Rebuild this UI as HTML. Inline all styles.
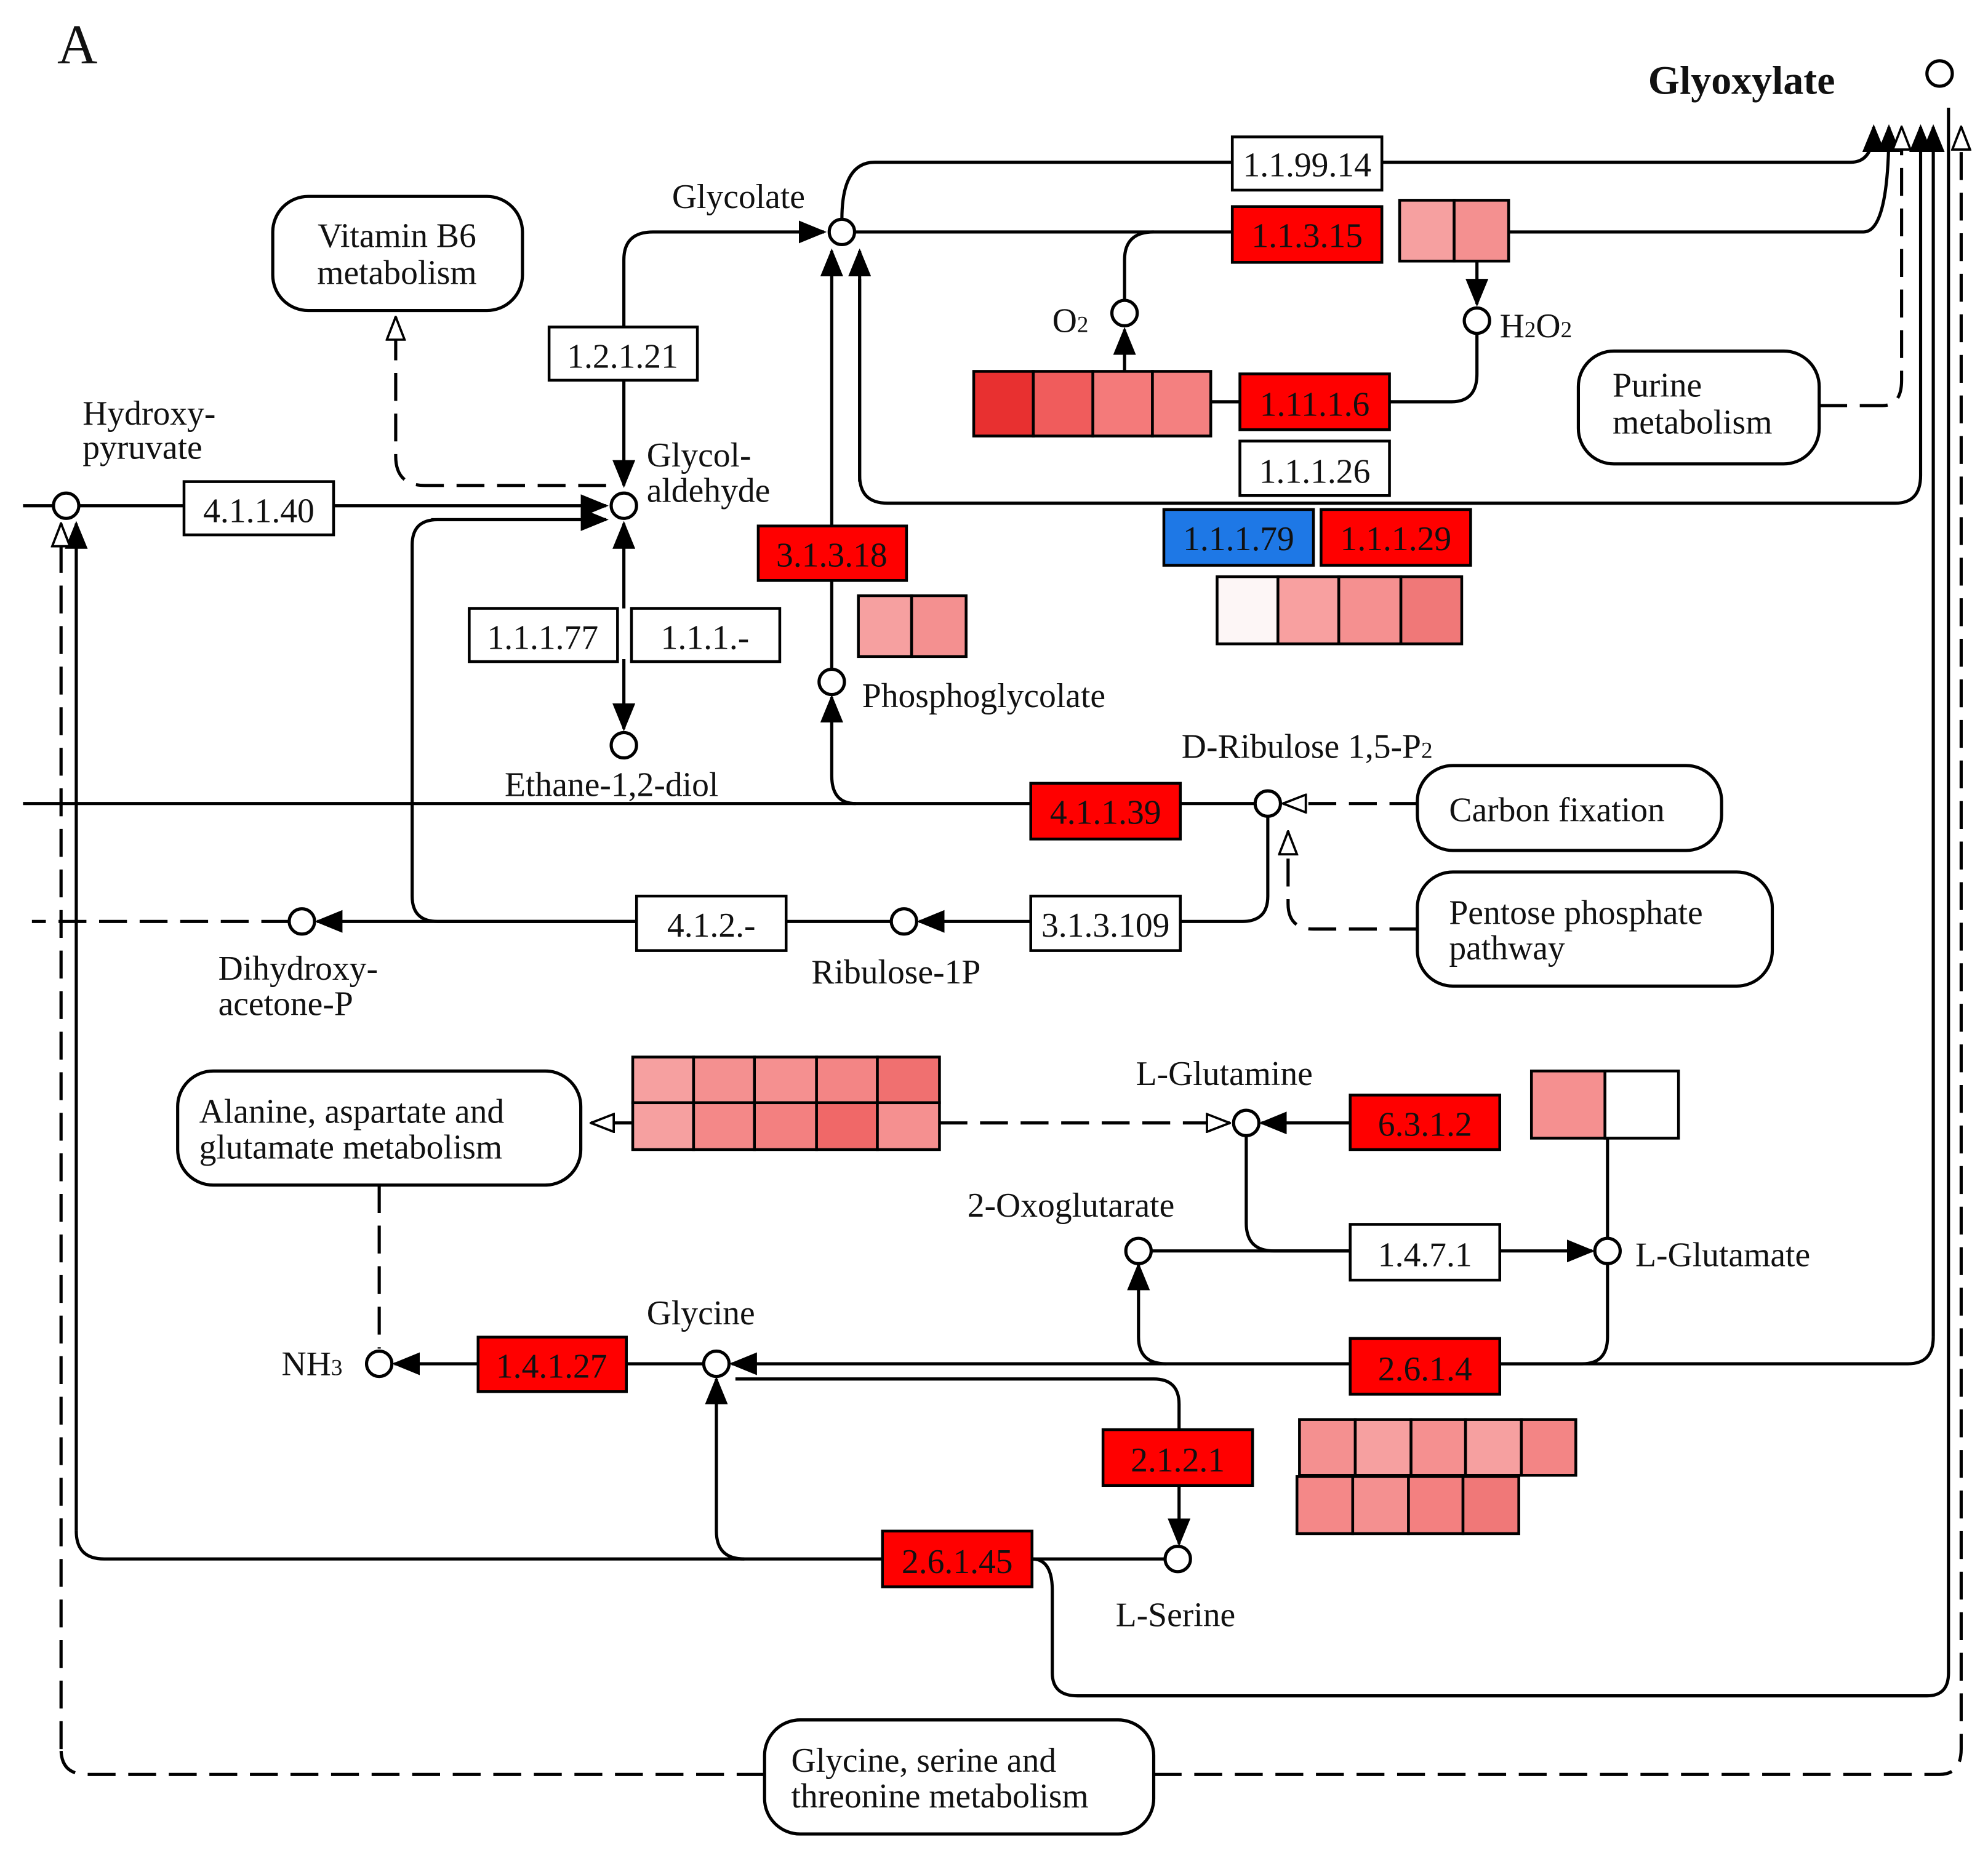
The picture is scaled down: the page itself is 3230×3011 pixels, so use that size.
<!DOCTYPE html>
<html><head><meta charset="utf-8"><style>
html,body{margin:0;padding:0;background:#fff}
svg{display:block}
text{font-family:"Liberation Serif",serif;font-size:27px;fill:#111}
.bt{text-anchor:middle}
</style></head><body>
<svg width="3230" height="3011" viewBox="0 0 1568 1462" xmlns="http://www.w3.org/2000/svg">
<defs>
<marker id="a" markerWidth="10" markerHeight="10" refX="9" refY="5" orient="auto" markerUnits="userSpaceOnUse" viewBox="0 0 10 10"><path d="M0,0 L10,5 L0,10 z" fill="#000"/></marker>
<marker id="af" markerWidth="22" markerHeight="18" refX="20" refY="9" orient="auto" markerUnits="userSpaceOnUse" viewBox="0 0 22 18"><path d="M0,0 L22,9 L0,18 z" fill="#000"/></marker>
<marker id="ao" markerWidth="20" markerHeight="16" refX="19" refY="8" orient="auto" markerUnits="userSpaceOnUse" viewBox="0 0 20 16"><path d="M1,1 L19,8 L1,15 z" fill="#fff" stroke="#000" stroke-width="1.8"/></marker>
</defs>
<rect width="1568" height="1462" fill="#fff"/>
<g fill="none" stroke="#000" stroke-width="2.5" stroke-linejoin="round">
<!-- top lines -->
<path d="M664,173 Q664,128 690,128 L972,128 M1090,128 L1460,128 Q1478,128 1478,100" marker-end="url(#af)"/>
<path d="M674,183 L972,183 M1190,183 L1470,183 Q1490,183 1490,100" marker-end="url(#af)"/>
<path d="M910,183 Q887,183 887,205 L887,237"/>
<path d="M1165,206 L1165,240" marker-end="url(#af)"/>
<path d="M1165,263 L1165,295 Q1165,317 1145,317 L1096,317 M955,317 L978,317"/>
<path d="M887,293 L887,260" marker-end="url(#af)"/>
<path d="M678,220 L678,375 Q678,397 700,397 L1495,397 Q1515,397 1515,375 L1515,100" marker-end="url(#af)"/>
<path d="M678,380 L678,198" marker-end="url(#af)"/>
<path d="M656,528 L656,198" marker-end="url(#af)"/>
<path d="M1525,1055 L1525,100" marker-end="url(#af)"/>
<path d="M1183,1076 L1505,1076 Q1525,1076 1525,1055"/>
<path d="M492,258 L492,205 Q492,183 515,183 L650,183" marker-end="url(#af)"/>
<path d="M492,300 L492,383" marker-end="url(#af)"/>
<path d="M18,399 L42,399 M62,399 L145,399 M263,399 L478,399" marker-end="url(#af)"/>
<path d="M478,410 L345,410 Q325,410 325,430 L325,707 Q325,727 345,727 L502,727"/>
<path d="M340,410 L478,410" marker-end="url(#af)"/>
<path d="M492,480 L492,413" marker-end="url(#af)"/>
<path d="M492,520 L492,575" marker-end="url(#af)"/>
<path d="M18,634 L813,634 M931,634 L990,634"/>
<path d="M675,634 Q656,634 656,612 L656,550" marker-end="url(#af)"/>
<path d="M1000,644 L1000,707 Q1000,727 980,727 L931,727"/>
<path d="M813,727 L725,727" marker-end="url(#af)"/>
<path d="M703,727 L620,727"/>
<path d="M502,727 L250,727" marker-end="url(#af)"/>
<path d="M60,1208 L60,413" marker-end="url(#af)"/>
<path d="M60,1208 Q60,1230 82,1230 L696,1230 M814,1230 L919,1230"/>
<path d="M587,1230 Q565,1230 565,1208 L565,1088" marker-end="url(#af)"/>
<path d="M814,1230 Q830,1230 830,1255 L830,1320 Q830,1338 850,1338 L1520,1338 Q1537,1338 1537,1320 L1537,85"/>
<path d="M1065,886 L995,886" marker-end="url(#af)"/>
<path d="M983,896 L983,965 Q983,987 1005,987 L1065,987"/>
<path d="M908,987 L1065,987"/>
<path d="M1183,987 L1256,987" marker-end="url(#af)"/>
<path d="M1268,898 L1268,977 M1268,997 L1268,1055 Q1268,1076 1248,1076 L1183,1076"/>
<path d="M920,1076 Q898,1076 898,1055 L898,998" marker-end="url(#af)"/>
<path d="M1065,1076 L577,1076" marker-end="url(#af)"/>
<path d="M377,1076 L311,1076" marker-end="url(#af)"/>
<path d="M555,1076 L494,1076"/>
<path d="M580,1088 L910,1088 Q930,1088 930,1108 L930,1128 M930,1172 L930,1218" marker-end="url(#af)"/>
</g>
<g fill="none" stroke="#000" stroke-width="2.5" stroke-dasharray="22,10">
<path d="M1435,320 L1485,320 Q1500,320 1500,300 L1500,100" marker-end="url(#ao)"/>
<path d="M478,383 L335,383 Q312,383 312,360 L312,250" marker-end="url(#ao)"/>
<path d="M1118,634 L1012,634" marker-end="url(#ao)"/>
<path d="M1118,733 L1036,733 Q1016,733 1016,713 L1016,656" marker-end="url(#ao)"/>
<path d="M228,727 L25,727"/>
<path d="M48,1380 L48,413" marker-end="url(#ao)"/>
<path d="M603,1400 L68,1400 Q48,1400 48,1380"/>
<path d="M910,1400 L1530,1400 Q1547,1400 1547,1380 L1547,100" marker-end="url(#ao)"/>
<path d="M499,886 L466,886" marker-end="url(#ao)"/>
<path d="M741,886 L970,886" marker-end="url(#ao)"/>
<path d="M299,935 L299,1064"/>
</g>
<!-- circles -->
<g fill="#fff" stroke="#000" stroke-width="2.5">
<circle cx="1530" cy="58" r="10"/><circle cx="664" cy="183" r="10"/><circle cx="887" cy="247" r="10"/>
<circle cx="1165" cy="253" r="10"/><circle cx="492" cy="399" r="10"/><circle cx="52" cy="399" r="10"/>
<circle cx="492" cy="588" r="10"/><circle cx="656" cy="538" r="10"/><circle cx="1000" cy="634" r="10"/>
<circle cx="238" cy="727" r="10"/><circle cx="713" cy="727" r="10"/><circle cx="983" cy="886" r="10"/>
<circle cx="898" cy="987" r="10"/><circle cx="1268" cy="987" r="10"/><circle cx="565" cy="1076" r="10"/>
<circle cx="299" cy="1076" r="10"/><circle cx="929" cy="1230" r="10"/>
</g>
<!-- rounded map boxes -->
<g fill="#fff" stroke="#000" stroke-width="2.5">
<rect x="215" y="155" width="197" height="90" rx="28"/>
<rect x="1245" y="277" width="190" height="89" rx="28"/>
<rect x="1118" y="604" width="240" height="67" rx="28"/>
<rect x="1118" y="688" width="280" height="90" rx="28"/>
<rect x="140" y="845" width="318" height="90" rx="28"/>
<rect x="603" y="1357" width="307" height="90" rx="28"/>
</g>
<!-- enzyme boxes -->
<g stroke="#000" stroke-width="2.2">
<rect x="972" y="108" width="118" height="42" fill="#fff"/>
<rect x="972" y="163" width="118" height="44" fill="#f00"/>
<rect x="1104" y="158" width="43" height="48" fill="#f6a0a0"/><rect x="1147" y="158" width="43" height="48" fill="#f49090"/>
<rect x="433" y="258" width="117" height="42" fill="#fff"/>
<rect x="145" y="380" width="118" height="42" fill="#fff"/>
<rect x="768" y="293" width="47" height="51" fill="#e83030"/><rect x="815" y="293" width="47" height="51" fill="#f05c5c"/><rect x="862" y="293" width="47" height="51" fill="#f47a7a"/><rect x="909" y="293" width="46" height="51" fill="#f48080"/>
<rect x="978" y="295" width="118" height="44" fill="#f00"/>
<rect x="978" y="348" width="118" height="43" fill="#fff"/>
<rect x="918" y="402" width="118" height="44" fill="#1e78e6"/>
<rect x="1042" y="402" width="118" height="44" fill="#f00"/>
<rect x="960" y="455" width="48" height="53" fill="#fdf6f6"/><rect x="1008" y="455" width="48" height="53" fill="#f8a0a0"/><rect x="1056" y="455" width="49" height="53" fill="#f59090"/><rect x="1105" y="455" width="48" height="53" fill="#f07878"/>
<rect x="598" y="415" width="117" height="43" fill="#f00"/>
<rect x="677" y="470" width="42" height="48" fill="#f6a0a0"/><rect x="719" y="470" width="43" height="48" fill="#f49090"/>
<rect x="370" y="480" width="117" height="42" fill="#fff"/>
<rect x="498" y="480" width="117" height="42" fill="#fff"/>
<rect x="813" y="618" width="118" height="44" fill="#f00"/>
<rect x="502" y="707" width="118" height="43" fill="#fff"/>
<rect x="813" y="707" width="118" height="43" fill="#fff"/>
<rect x="499" y="834" width="48" height="36" fill="#f6a0a0"/><rect x="547" y="834" width="48" height="36" fill="#f49090"/><rect x="595" y="834" width="49" height="36" fill="#f59090"/><rect x="644" y="834" width="48" height="36" fill="#f38585"/><rect x="692" y="834" width="49" height="36" fill="#f07070"/>
<rect x="499" y="870" width="48" height="37" fill="#f6a0a0"/><rect x="547" y="870" width="48" height="37" fill="#f48888"/><rect x="595" y="870" width="49" height="37" fill="#f38080"/><rect x="644" y="870" width="48" height="37" fill="#f06868"/><rect x="692" y="870" width="49" height="37" fill="#f59090"/>
<rect x="1065" y="864" width="118" height="43" fill="#f00"/>
<rect x="1208" y="845" width="58" height="53" fill="#f59090"/><rect x="1266" y="845" width="58" height="53" fill="#fff"/>
<rect x="1065" y="966" width="118" height="44" fill="#fff"/>
<rect x="377" y="1055" width="117" height="43" fill="#f00"/>
<rect x="1065" y="1056" width="118" height="44" fill="#f00"/>
<rect x="1025" y="1120" width="44" height="44" fill="#f49090"/><rect x="1069" y="1120" width="44" height="44" fill="#f6a0a0"/><rect x="1113" y="1120" width="43" height="44" fill="#f59090"/><rect x="1156" y="1120" width="44" height="44" fill="#f6a0a0"/><rect x="1200" y="1120" width="43" height="44" fill="#f38585"/>
<rect x="1023" y="1165" width="44" height="45" fill="#f48888"/><rect x="1067" y="1165" width="44" height="45" fill="#f49090"/><rect x="1111" y="1165" width="43" height="45" fill="#f38080"/><rect x="1154" y="1165" width="44" height="45" fill="#f07878"/>
<rect x="870" y="1128" width="118" height="44" fill="#f00"/>
<rect x="696" y="1208" width="118" height="44" fill="#f00"/>
</g>
<!-- box labels -->
<g class="bt">
<text x="1031" y="139" class="bt">1.1.99.14</text>
<text x="1031" y="195" class="bt">1.1.3.15</text>
<text x="491" y="290" class="bt">1.2.1.21</text>
<text x="204" y="412" class="bt">4.1.1.40</text>
<text x="1037" y="328" class="bt">1.11.1.6</text>
<text x="1037" y="381" class="bt">1.1.1.26</text>
<text x="977" y="434" class="bt">1.1.1.79</text>
<text x="1101" y="434" class="bt">1.1.1.29</text>
<text x="656" y="447" class="bt">3.1.3.18</text>
<text x="428" y="512" class="bt">1.1.1.77</text>
<text x="556" y="512" class="bt">1.1.1.-</text>
<text x="872" y="650" class="bt">4.1.1.39</text>
<text x="561" y="739" class="bt">4.1.2.-</text>
<text x="872" y="739" class="bt">3.1.3.109</text>
<text x="1124" y="896" class="bt">6.3.1.2</text>
<text x="1124" y="999" class="bt">1.4.7.1</text>
<text x="435" y="1087" class="bt">1.4.1.27</text>
<text x="1124" y="1089" class="bt">2.6.1.4</text>
<text x="929" y="1161" class="bt">2.1.2.1</text>
<text x="755" y="1241" class="bt">2.6.1.45</text>
</g>
<!-- map labels -->
<text x="313" y="195" class="bt">Vitamin B6</text><text x="313" y="224" class="bt">metabolism</text>
<text x="1340" y="314">
</text>
<text x="1272" y="313">Purine</text><text x="1272" y="342">metabolism</text>
<text x="1143" y="648">Carbon fixation</text>
<text x="1143" y="729">Pentose phosphate</text><text x="1143" y="757">pathway</text>
<text x="157" y="886">Alanine, aspartate and</text><text x="157" y="914">glutamate metabolism</text>
<text x="624" y="1398">Glycine, serine and</text><text x="624" y="1426">threonine metabolism</text>
<!-- compound labels -->
<text x="45" y="50" style="font-size:44px">A</text>
<text x="1300" y="74" style="font-size:32px;font-weight:bold">Glyoxylate</text>
<text x="530" y="164">Glycolate</text>
<text x="830" y="262">O<tspan style="font-size:18px">2</tspan></text>
<text x="1183" y="266">H<tspan style="font-size:18px">2</tspan>O<tspan style="font-size:18px">2</tspan></text>
<text x="65" y="335">Hydroxy-</text><text x="65" y="362">pyruvate</text>
<text x="510" y="368">Glycol-</text><text x="510" y="396">aldehyde</text>
<text x="680" y="558">Phosphoglycolate</text>
<text x="398" y="628">Ethane-1,2-diol</text>
<text x="932" y="598">D-Ribulose 1,5-P<tspan style="font-size:18px">2</tspan></text>
<text x="172" y="773">Dihydroxy-</text><text x="172" y="801">acetone-P</text>
<text x="640" y="776">Ribulose-1P</text>
<text x="896" y="856">L-Glutamine</text>
<text x="763" y="960">2-Oxoglutarate</text>
<text x="1290" y="999">L-Glutamate</text>
<text x="510" y="1045">Glycine</text>
<text x="222" y="1085">NH<tspan style="font-size:18px">3</tspan></text>
<text x="880" y="1283">L-Serine</text>
</svg>
</body></html>
